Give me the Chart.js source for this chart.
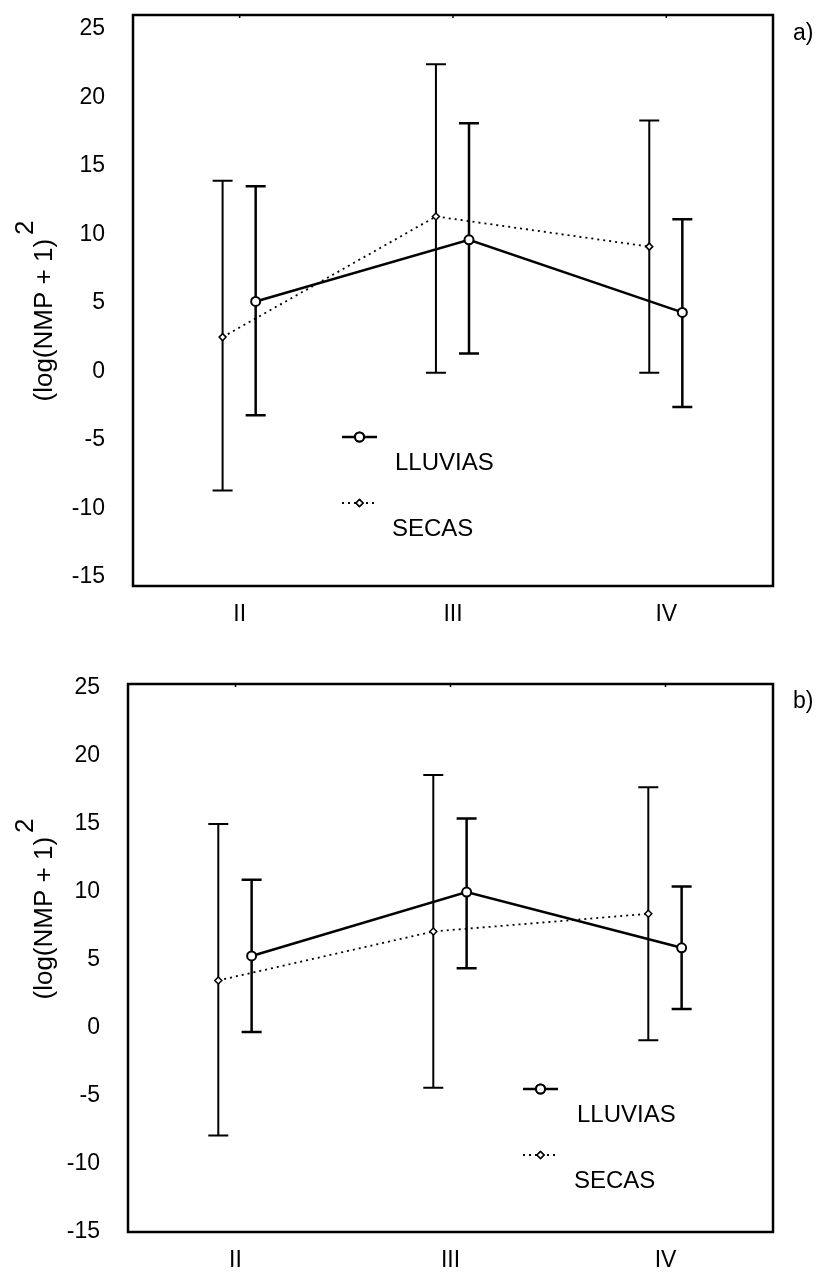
<!DOCTYPE html>
<html><head><meta charset="utf-8">
<script src="https://cdn.jsdelivr.net/npm/chart.js@4.4.1/dist/chart.umd.min.js"></script>
<style>
html,body{margin:0;padding:0;background:#fff;}
canvas{position:absolute;left:0;}
</style></head><body>
<canvas id="ca" width="816" height="640" style="top:0"></canvas>
<canvas id="cb" width="816" height="637" style="top:640px"></canvas>
<script>
const categories = ['II', 'III', 'IV'];
const yTickValues = [-15, -10, -5, 0, 5, 10, 15, 20, 25];
const seriesNames = ['LLUVIAS', 'SECAS'];
const yTitle = '(log(NMP + 1)';
const yTitleSup = '2';

// panel a)
const lluviasA     = [5.1, 9.6, 4.3];
const lluviasALow  = [-3.2, 1.3, -2.6];
const lluviasAHigh = [13.5, 18.1, 11.1];
const secasA       = [2.5, 11.3, 9.1];
const secasALow    = [-8.7, -0.1, -0.1];
const secasAHigh   = [13.9, 22.4, 18.3];

// panel b)
const lluviasB     = [5.3, 10.0, 5.9];
const lluviasBLow  = [-0.3, 4.4, 1.4];
const lluviasBHigh = [10.9, 15.4, 10.4];
const secasB       = [3.5, 7.1, 8.4];
const secasBLow    = [-7.9, -4.4, -0.9];
const secasBHigh   = [15.0, 18.6, 17.7];

const FONT = "'Liberation Sans', Arial, sans-serif";

const errorBars = {
  id: 'errorBars',
  beforeDatasetsDraw(chart) {
    const ctx = chart.ctx, ys = chart.scales.y;
    chart.data.datasets.forEach((ds, di) => {
      const meta = chart.getDatasetMeta(di);
      ctx.save();
      ctx.strokeStyle = '#000';
      ctx.lineWidth = ds.errWidth;
      ctx.setLineDash([]);
      meta.data.forEach((pt, i) => {
        const x = pt.x;
        const yl = ys.getPixelForValue(ds.errLow[i]);
        const yh = ys.getPixelForValue(ds.errHigh[i]);
        const c = ds.capHalf;
        ctx.beginPath();
        ctx.moveTo(x, yl); ctx.lineTo(x, yh);
        ctx.moveTo(x - c, yl); ctx.lineTo(x + c, yl);
        ctx.moveTo(x - c, yh); ctx.lineTo(x + c, yh);
        ctx.stroke();
      });
      ctx.restore();
    });
  }
};

const frameAndText = {
  id: 'frameAndText',
  afterDraw(chart, args, opts) {
    const ctx = chart.ctx, a = chart.chartArea;
    ctx.save();
    ctx.strokeStyle = '#000';
    ctx.lineWidth = 2.5;
    ctx.setLineDash([]);
    ctx.strokeRect(a.left, a.top, a.right - a.left, a.bottom - a.top);
    ctx.lineWidth = 1.5;
    chart.scales.x.ticks.forEach(t => {
      const x = chart.scales.x.getPixelForValue(t.value);
      ctx.beginPath(); ctx.moveTo(x, a.top); ctx.lineTo(x, a.top + 3); ctx.stroke();
    });
    ctx.fillStyle = '#000';
    ctx.font = '23px ' + FONT;
    ctx.textAlign = 'left';
    ctx.textBaseline = 'middle';
    ctx.fillText(opts.letter, a.right + 20, a.top + opts.letterDy);
    ctx.font = '26px ' + FONT;
    const w = ctx.measureText(yTitle).width;
    const w2 = ctx.measureText(yTitleSup).width;
    const total = w + 4 + w2;
    ctx.translate(opts.titleX, opts.titleCy + total / 2);
    ctx.rotate(-Math.PI / 2);
    ctx.textBaseline = 'alphabetic';
    ctx.fillText(yTitle, 0, 0);
    ctx.fillText(yTitleSup, w + 4, -19);
    ctx.restore();
    ctx.save();
    chart.data.datasets.forEach((ds, i) => {
      const L = opts.legend[i];
      ctx.strokeStyle = '#000';
      ctx.lineWidth = ds.borderWidth;
      ctx.setLineDash(ds.borderDash || []);
      ctx.beginPath(); ctx.moveTo(L.x, L.y); ctx.lineTo(L.x + 35, L.y); ctx.stroke();
      ctx.setLineDash([]);
      ctx.fillStyle = '#fff';
      ctx.lineWidth = ds.pointBorderWidth;
      Chart.helpers.drawPoint(ctx, {pointStyle: ds.pointStyle, radius: ds.pointRadius, rotation: 0, borderWidth: ds.pointBorderWidth}, L.x + 17.5, L.y);
      ctx.fill(); ctx.stroke();
      ctx.fillStyle = '#000';
      ctx.font = '24px ' + FONT;
      ctx.textAlign = 'left';
      ctx.textBaseline = 'middle';
      ctx.fillText(ds.label, L.x + L.tdx, L.y + 26);
    });
    ctx.restore();
  }
};

function pts(vals, off) { return vals.map((v, i) => ({x: i + 0.5 + off, y: v})); }

function makeChart(id, p) {
  return new Chart(document.getElementById(id), {
    type: 'line',
    data: {
      datasets: [
        {
          label: seriesNames[0], data: pts(p.ll, 0.075),
          errLow: p.llLow, errHigh: p.llHigh, errWidth: 2.5, capHalf: 10,
          borderColor: '#000', borderWidth: 2.5, pointStyle: 'circle', pointRadius: 4.5,
          pointBackgroundColor: '#fff', pointBorderColor: '#000', pointBorderWidth: 2, tension: 0
        },
        {
          label: seriesNames[1], data: pts(p.se, -0.08),
          errLow: p.seLow, errHigh: p.seHigh, errWidth: 2, capHalf: 10,
          borderColor: '#000', borderWidth: 1.8, borderDash: [2, 4], pointStyle: 'rectRot', pointRadius: 3.5,
          pointBackgroundColor: '#fff', pointBorderColor: '#000', pointBorderWidth: 1.5, tension: 0
        }
      ]
    },
    options: {
      responsive: false, animation: false, devicePixelRatio: 1,
      layout: {padding: {top: p.top, right: 43, left: 0, bottom: 0}},
      plugins: {
        legend: {display: false}, tooltip: {enabled: false},
        frameAndText: {letter: p.letter, letterDy: p.letterDy, titleX: 52, titleCy: p.titleCy, legend: p.legend}
      },
      scales: {
        x: {
          type: 'linear', min: 0, max: 3,
          afterBuildTicks: s => { s.ticks = categories.map((c, i) => ({value: i + 0.5})); },
          afterFit: s => { s.height = p.xh; s.paddingLeft = 0; s.paddingRight = 0; },
          grid: {display: false, drawTicks: false},
          border: {display: false},
          ticks: {padding: 15, color: '#000', font: {family: FONT, size: 23},
                  callback: (v, i) => categories[i], maxRotation: 0, autoSkip: false}
        },
        y: {
          type: 'linear', min: p.ymin, max: p.ymax,
          afterBuildTicks: s => { s.ticks = yTickValues.map(v => ({value: v})); },
          afterFit: s => { s.width = p.left; s.paddingTop = 0; s.paddingBottom = 0; },
          grid: {display: false, drawTicks: false},
          border: {display: false},
          ticks: {padding: 28, color: '#000', font: {family: FONT, size: 23}}
        }
      }
    },
    plugins: [errorBars, frameAndText]
  });
}

makeChart('ca', {
  ll: lluviasA, llLow: lluviasALow, llHigh: lluviasAHigh,
  se: secasA, seLow: secasALow, seHigh: secasAHigh,
  top: 15, xh: 54, left: 133, ymin: -15.66, ymax: 26.0,
  letter: 'a)', letterDy: 19, titleCy: 311,
  legend: [{x: 342, y: 437, tdx: 53}, {x: 342, y: 503, tdx: 50}]
});
makeChart('cb', {
  ll: lluviasB, llLow: lluviasBLow, llHigh: lluviasBHigh,
  se: secasB, seLow: secasBLow, seHigh: secasBHigh,
  top: 44, xh: 45, left: 128, ymin: -15, ymax: 25.3,
  letter: 'b)', letterDy: 18, titleCy: 269,
  legend: [{x: 523, y: 449, tdx: 54}, {x: 523, y: 515, tdx: 51}]
});
</script>
</body></html>
